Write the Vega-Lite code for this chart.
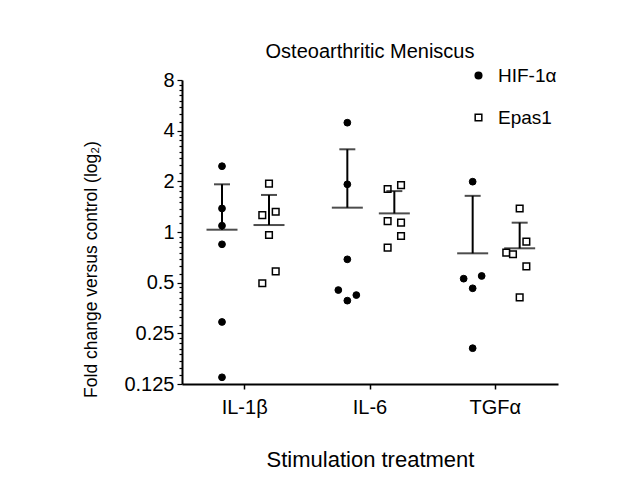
{
  "$schema": "https://vega.github.io/schema/vega-lite/v6.json",
  "autosize": {"type": "none"},
  "width": 376,
  "height": 304,
  "padding": {"left": 182, "top": 80, "right": 72, "bottom": 103},
  "background": "white",
  "title": {"text": "Osteoarthritic Meniscus", "frame": "group", "anchor": "middle", "baseline": "alphabetic", "offset": -12, "fontSize": 20, "font": "Liberation Sans", "fontWeight": "normal", "color": "black"},
  "datasets": {
    "points": [
      {"treatment": "IL-1β", "gene": "HIF-1α", "value": 2.46, "col": 0},
      {"treatment": "IL-1β", "gene": "HIF-1α", "value": 1.38, "col": 0},
      {"treatment": "IL-1β", "gene": "HIF-1α", "value": 1.09, "col": 0},
      {"treatment": "IL-1β", "gene": "HIF-1α", "value": 0.845, "col": 0},
      {"treatment": "IL-1β", "gene": "HIF-1α", "value": 0.292, "col": 0},
      {"treatment": "IL-1β", "gene": "HIF-1α", "value": 0.137, "col": 0},
      {"treatment": "IL-1β", "gene": "Epas1", "value": 1.94, "col": 0},
      {"treatment": "IL-1β", "gene": "Epas1", "value": 1.26, "col": -1},
      {"treatment": "IL-1β", "gene": "Epas1", "value": 1.32, "col": 1},
      {"treatment": "IL-1β", "gene": "Epas1", "value": 0.96, "col": 0},
      {"treatment": "IL-1β", "gene": "Epas1", "value": 0.496, "col": -1},
      {"treatment": "IL-1β", "gene": "Epas1", "value": 0.584, "col": 1},
      {"treatment": "IL-6", "gene": "HIF-1α", "value": 4.46, "col": 0},
      {"treatment": "IL-6", "gene": "HIF-1α", "value": 1.92, "col": 0},
      {"treatment": "IL-6", "gene": "HIF-1α", "value": 0.688, "col": 0},
      {"treatment": "IL-6", "gene": "HIF-1α", "value": 0.452, "col": -1},
      {"treatment": "IL-6", "gene": "HIF-1α", "value": 0.422, "col": 1},
      {"treatment": "IL-6", "gene": "HIF-1α", "value": 0.391, "col": 0},
      {"treatment": "IL-6", "gene": "Epas1", "value": 1.80, "col": -1},
      {"treatment": "IL-6", "gene": "Epas1", "value": 1.90, "col": 1},
      {"treatment": "IL-6", "gene": "Epas1", "value": 1.16, "col": -1},
      {"treatment": "IL-6", "gene": "Epas1", "value": 1.136, "col": 1},
      {"treatment": "IL-6", "gene": "Epas1", "value": 0.947, "col": 1},
      {"treatment": "IL-6", "gene": "Epas1", "value": 0.807, "col": -1},
      {"treatment": "TGFα", "gene": "HIF-1α", "value": 1.99, "col": 0},
      {"treatment": "TGFα", "gene": "HIF-1α", "value": 0.528, "col": -1},
      {"treatment": "TGFα", "gene": "HIF-1α", "value": 0.548, "col": 1},
      {"treatment": "TGFα", "gene": "HIF-1α", "value": 0.463, "col": 0},
      {"treatment": "TGFα", "gene": "HIF-1α", "value": 0.204, "col": 0},
      {"treatment": "TGFα", "gene": "Epas1", "value": 1.38, "col": 0},
      {"treatment": "TGFα", "gene": "Epas1", "value": 0.876, "col": 1},
      {"treatment": "TGFα", "gene": "Epas1", "value": 0.754, "col": -2},
      {"treatment": "TGFα", "gene": "Epas1", "value": 0.737, "col": -1},
      {"treatment": "TGFα", "gene": "Epas1", "value": 0.625, "col": 1},
      {"treatment": "TGFα", "gene": "Epas1", "value": 0.409, "col": 0}
    ],
    "summary": [
      {"treatment": "IL-1β", "gene": "HIF-1α", "mean": 1.032, "upper": 1.92, "col": 0},
      {"treatment": "IL-1β", "gene": "Epas1", "mean": 1.10, "upper": 1.66, "col": 0},
      {"treatment": "IL-6", "gene": "HIF-1α", "mean": 1.395, "upper": 3.10, "col": 0},
      {"treatment": "IL-6", "gene": "Epas1", "mean": 1.29, "upper": 1.75, "col": 0},
      {"treatment": "TGFα", "gene": "HIF-1α", "mean": 0.747, "upper": 1.64, "col": 0},
      {"treatment": "TGFα", "gene": "Epas1", "mean": 0.80, "upper": 1.136, "col": 0}
    ]
  },
  "encoding": {
    "x": {
      "field": "treatment", "type": "nominal",
      "scale": {"domain": ["IL-1β", "IL-6", "TGFα"], "paddingInner": 0, "paddingOuter": 0},
      "axis": {"title": "Stimulation treatment", "labelAngle": 0, "labelFontSize": 20, "titleFontSize": 22, "titleFontWeight": "normal", "tickSize": 5, "tickWidth": 1.5, "labelPadding": 8, "domainWidth": 2, "titleBaseline": "alphabetic", "titleY": 82}
    }
  },
  "layer": [
    {
      "encoding": {
        "xOffset": {"field": "col", "type": "quantitative", "scale": {"domain": [-1, 1], "range": [31, 49]}}
      },
      "layer": [
        {
          "data": {"name": "points"},
          "transform": [{"filter": "datum.gene === 'HIF-1α'"}],
          "mark": {"type": "point", "filled": true, "strokeWidth": 1, "size": 46, "opacity": 1},
          "encoding": {
            "y": {
              "field": "value", "type": "quantitative",
              "scale": {"type": "log", "base": 2, "domain": [0.125, 8], "nice": false},
              "axis": {
                "title": "Fold change versus control (log₂)",
                "values": [0.125, 0.140625, 0.15625, 0.171875, 0.1875, 0.203125, 0.21875, 0.234375, 0.25, 0.28125, 0.3125, 0.34375, 0.375, 0.40625, 0.4375, 0.46875, 0.5, 0.5625, 0.625, 0.6875, 0.75, 0.8125, 0.875, 0.9375, 1, 1.125, 1.25, 1.375, 1.5, 1.625, 1.75, 1.875, 2, 2.25, 2.5, 2.75, 3, 3.25, 3.5, 3.75, 4, 4.5, 5, 5.5, 6, 6.5, 7, 7.5, 8],
                "labelExpr": "indexof([0.125,0.25,0.5,1,2,4,8], datum.value) >= 0 ? format(datum.value, '~g') : ''",
                "labelOverlap": false,
                "labelFlush": false,
                "labelFontSize": 20,
                "labelPadding": 3,
                "tickSize": {"condition": {"test": "indexof([0.125,0.25,0.5,1,2,4,8], datum.value) >= 0", "value": 5}, "value": 3},
                "tickWidth": 1.2,
                "domainWidth": 2,
                "titleFontSize": 17.5,
                "titleFontWeight": "normal",
                "titleAngle": -90,
                "titleBaseline": "bottom",
                "titleAlign": "center",
                "titleX": -82,
                "titleY": 189
              }
            },
            "shape": {"field": "gene", "type": "nominal", "scale": {"domain": ["HIF-1α", "Epas1"], "range": ["circle", "square"]}, "legend": {"title": null}},
            "fill": {"field": "gene", "type": "nominal", "scale": {"domain": ["HIF-1α", "Epas1"], "range": ["black", "white"]}, "legend": {"title": null}},
            "stroke": {"field": "gene", "type": "nominal", "scale": {"domain": ["HIF-1α", "Epas1"], "range": ["black", "black"]}, "legend": {"title": null}}
          }
        },
        {
          "data": {"name": "summary"},
          "transform": [{"filter": "datum.gene === 'HIF-1α'"}],
          "layer": [
            {
              "mark": {"type": "tick", "size": 31, "thickness": 2, "color": "black"},
              "encoding": {"y": {"field": "mean", "type": "quantitative"}}
            },
            {
              "mark": {"type": "tick", "size": 16, "thickness": 2, "color": "black"},
              "encoding": {"y": {"field": "upper", "type": "quantitative"}}
            },
            {
              "mark": {"type": "rule", "strokeWidth": 2, "color": "black"},
              "encoding": {"y": {"field": "mean", "type": "quantitative"}, "y2": {"field": "upper"}}
            }
          ]
        }
      ]
    },
    {
      "encoding": {
        "xOffset": {"field": "col", "type": "quantitative", "scale": {"domain": [-1, 1], "range": [80.3, 93.7]}}
      },
      "layer": [
        {
          "data": {"name": "points"},
          "transform": [{"filter": "datum.gene === 'Epas1'"}],
          "mark": {"type": "point", "filled": true, "strokeWidth": 1.5, "size": 44, "opacity": 1},
          "encoding": {
            "y": {"field": "value", "type": "quantitative"},
            "shape": {"field": "gene", "type": "nominal"},
            "fill": {"field": "gene", "type": "nominal"},
            "stroke": {"field": "gene", "type": "nominal"}
          }
        },
        {
          "data": {"name": "summary"},
          "transform": [{"filter": "datum.gene === 'Epas1'"}],
          "layer": [
            {
              "mark": {"type": "tick", "size": 31, "thickness": 2, "color": "black"},
              "encoding": {"y": {"field": "mean", "type": "quantitative"}}
            },
            {
              "mark": {"type": "tick", "size": 16, "thickness": 2, "color": "black"},
              "encoding": {"y": {"field": "upper", "type": "quantitative"}}
            },
            {
              "mark": {"type": "rule", "strokeWidth": 2, "color": "black"},
              "encoding": {"y": {"field": "mean", "type": "quantitative"}, "y2": {"field": "upper"}}
            }
          ]
        }
      ]
    }
  ],
  "resolve": {"scale": {"xOffset": "independent"}},
  "config": {
    "font": "Liberation Sans",
    "view": {"stroke": null},
    "axis": {"domainColor": "black", "tickColor": "black", "labelColor": "black", "titleColor": "black", "grid": false, "labelFont": "Liberation Sans", "titleFont": "Liberation Sans"},
    "legend": {
      "orient": "none", "legendX": 287, "legendY": -14, "padding": 0,
      "labelFontSize": 19, "labelColor": "black", "labelFont": "Liberation Sans",
      "symbolSize": 44, "symbolStrokeWidth": 1.5,
      "rowPadding": 22, "labelOffset": 10
    }
  }
}
